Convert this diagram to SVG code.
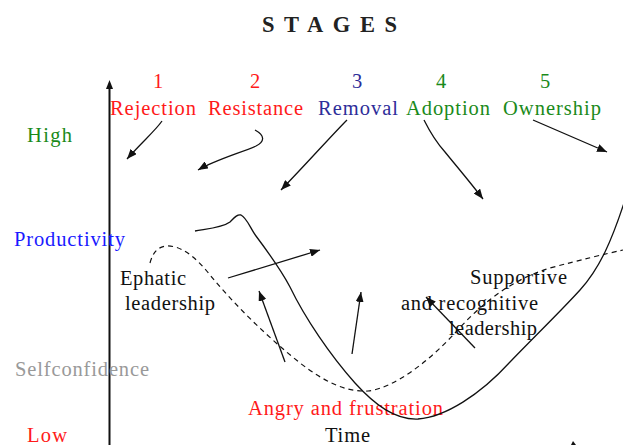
<svg xmlns="http://www.w3.org/2000/svg" width="623" height="445" viewBox="0 0 623 445">
<style>
text{font-family:"Liberation Serif","Times New Roman",serif;font-size:20.5px}
.t{font-size:22.5px;font-weight:bold;fill:#222}
.red{fill:#ff1a1a}
.navy{fill:#2d2d99}
.green{fill:#1a8a1a}
.blue{fill:#1a1aff}
.gray{fill:#999}
.blk{fill:#111}
.ln{fill:none;stroke:#111;stroke-width:1.3}
.dash{fill:none;stroke:#111;stroke-width:1.2;stroke-dasharray:5 4}
</style>
<defs>
<marker id="ah" viewBox="0 0 10 8" refX="10" refY="4" markerWidth="10" markerHeight="8" markerUnits="userSpaceOnUse" orient="auto">
<path d="M0,0 L10,4 L0,8 Z" fill="#111"/>
</marker>
</defs>
<rect width="623" height="445" fill="#fff"/>
<g id="title"><text class="t" x="262" y="32" textLength="135" lengthAdjust="spacing">STAGES</text></g>
<g id="axis">
<line x1="109.5" y1="445" x2="109.5" y2="88" stroke="#111" stroke-width="2"/>
<path d="M109.5,80 L113,89 L106,89 Z" fill="#111"/>
</g>
<g id="levels">
<text class="green" x="27" y="142" textLength="45" lengthAdjust="spacing">High</text>
<text class="blue" x="14" y="246" textLength="111" lengthAdjust="spacing">Productivity</text>
<text class="gray" x="15" y="376" textLength="134" lengthAdjust="spacing">Selfconfidence</text>
<text class="red" x="27" y="442" textLength="40" lengthAdjust="spacing">Low</text>
</g>
<g id="stage1"><text class="red" x="158" y="88" text-anchor="middle">1</text><text class="red" x="110" y="115" textLength="86" lengthAdjust="spacing">Rejection</text></g>
<g id="stage2"><text class="red" x="255" y="88" text-anchor="middle">2</text><text class="red" x="208" y="115" textLength="95" lengthAdjust="spacing">Resistance</text></g>
<g id="stage3"><text class="navy" x="357" y="88" text-anchor="middle">3</text><text class="navy" x="318" y="115" textLength="80" lengthAdjust="spacing">Removal</text></g>
<g id="stage4"><text class="green" x="441" y="88" text-anchor="middle">4</text><text class="green" x="406" y="115" textLength="84" lengthAdjust="spacing">Adoption</text></g>
<g id="stage5"><text class="green" x="545" y="88" text-anchor="middle">5</text><text class="green" x="503" y="115" textLength="98" lengthAdjust="spacing">Ownership</text></g>
<g id="ephatic"><text class="blk" x="120" y="285" textLength="66" lengthAdjust="spacing">Ephatic</text><text class="blk" x="125" y="310" textLength="90" lengthAdjust="spacing">leadership</text></g>
<g id="supportive"><text class="blk" x="470" y="284" textLength="97" lengthAdjust="spacing">Supportive</text><text class="blk" x="401" y="310" textLength="137" lengthAdjust="spacing">and recognitive</text><text class="blk" x="449" y="335" textLength="88" lengthAdjust="spacing">leadership</text></g>
<g id="angry"><text class="red" x="248" y="415" textLength="195" lengthAdjust="spacing">Angry and frustration</text></g>
<g id="time"><text class="blk" x="325" y="442" textLength="45" lengthAdjust="spacing">Time</text></g>
<g id="curves">
<path class="ln" d="M195,231 C205,229 222,228 230,222 C234,218 237,214 241,215 C247,218 250,228 256,236 C265,248 280,268 290,287 C305,318 330,355 355,383 C375,405 395,420 418,419 C445,417 480,395 510,362 C535,336 560,312 580,290 C600,268 612,240 625,200"/>
<path class="dash" d="M150,263 C153,252 158,247 166,246 C180,245 195,256 210,275 C235,305 265,335 300,363 C325,382 345,392 368,391 C395,388 430,360 455,333 C480,305 510,280 550,268 C580,260 605,254 623,250"/>
</g>
<g id="connectors">
<path class="ln" d="M162,121 C156,130 142,142 127,159" marker-end="url(#ah)"/>
<path class="ln" d="M255,130 C266,136 264,142 256,146 C240,153 215,160 198,170" marker-end="url(#ah)"/>
<path class="ln" d="M347,120 C332,135 310,160 281,190" marker-end="url(#ah)"/>
<path class="ln" d="M424,120 C430,132 436,142 445,152 C458,168 470,182 483,199" marker-end="url(#ah)"/>
<path class="ln" d="M533,120 L607,152" marker-end="url(#ah)"/>
<path class="ln" d="M228,278 L320,250" marker-end="url(#ah)"/>
<path class="ln" d="M285,362 L259,291" marker-end="url(#ah)"/>
<path class="ln" d="M352,354 L361,292" marker-end="url(#ah)"/>
<path class="ln" d="M475,348 L426,297" marker-end="url(#ah)"/>
<path d="M571,445 L573,441 L576,445 Z" fill="#111"/>
</g>
</svg>
